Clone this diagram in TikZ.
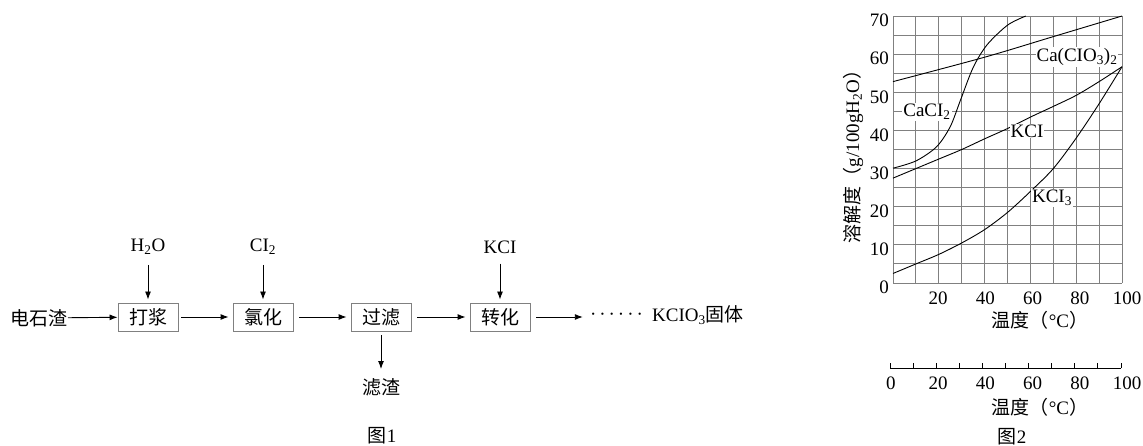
\documentclass[tikz,border=0pt]{standalone}
\usepackage{fontspec}
\setmainfont{Liberation Serif}
\newfontfamily\cjk{Noto Sans CJK SC}
\newcommand{\zh}[1]{{\cjk #1}}
\usetikzlibrary{arrows.meta}
\begin{document}
\begin{tikzpicture}[x=1pt,y=-1pt,
  every node/.style={font=\fontsize{19}{22}\selectfont, inner sep=0pt},
  procbox/.style={draw=black!50, line width=0.9pt, minimum width=60pt, minimum height=28pt},
  flow/.style={-{Latex[length=8pt,width=6pt]}, line width=0.9pt},
  gridln/.style={draw=black!50, line width=0.9pt},
  curve/.style={line width=0.9pt},
  clabel/.style={fill=white, inner sep=1pt}]
\useasboundingbox (0,0) rectangle (1143,446);

% ---------- Figure 1 : flow chart ----------
\node[anchor=east] (raw) at (68,318) {\zh{电石渣}};
\node[procbox] (b1) at (148,317) {\zh{打浆}};
\node[procbox] (b2) at (263,317) {\zh{氯化}};
\node[procbox] (b3) at (381,317) {\zh{过滤}};
\node[procbox] (b4) at (500,317) {\zh{转化}};
\node (h2o) at (148,247) {H\textsubscript{2}O};
\node (cl2) at (263,247) {CI\textsubscript{2}};
\node (kcl) at (500,247) {KCI};
\node (lz) at (381,387) {\zh{滤渣}};
\node (dots) at (616.5,317) {\makebox[53pt]{·\hfill·\hfill·\hfill·\hfill·\hfill·}};
\node[anchor=base west] (prod) at (652,322) {KCIO\textsubscript{3}\zh{固体}};
\node (fig1) at (382,436) {\zh{图}1};

\draw[flow] (raw) -- (b1);
\draw[flow, shorten <=3pt, shorten >=4pt] (b1) -- (b2);
\draw[flow, shorten <=6pt, shorten >=4pt] (b2) -- (b3);
\draw[flow, shorten <=6pt, shorten >=4pt] (b3) -- (b4);
\draw[flow, shorten <=6pt, shorten >=7pt] (b4) -- (dots);
\draw[flow, shorten <=10pt, shorten >=3pt] (h2o) -- (b1);
\draw[flow, shorten <=10pt, shorten >=3pt] (cl2) -- (b2);
\draw[flow, shorten <=10pt, shorten >=3pt] (kcl) -- (b4);
\draw[flow, shorten <=4pt, shorten >=9pt] (b3) -- (lz);

% ---------- Figure 2 : solubility graph ----------
\begin{scope}[shift={(893pt,-283pt)}, x=2.29pt, y=3.814pt]
  \foreach \i in {0,10,...,100} \draw[gridln] (\i,0) -- (\i,70);
  \foreach \j in {0,5,...,70} \draw[gridln] (0,\j) -- (100,\j);
  % Ca(ClO3)2
  \draw[curve] plot[smooth] coordinates {(0,52.8) (40,59.2) (70,64.6) (100,70)};
  % CaCl2
  \draw[curve] plot[smooth] coordinates {(0,30.1) (10,32) (19,35.7) (25,41) (29.5,48) (35,56.5) (41,62.4) (50,67.6) (58,70)};
  % KCl
  \draw[curve] plot[smooth] coordinates {(0,27.5) (10,30) (20,32.5) (30,35) (40,37.8) (50,40.5) (60,43.5) (70,46.3) (80,49.2) (90,52.8) (100,56.7)};
  % KClO3
  \draw[curve] plot[smooth] coordinates {(0,2.5) (10,5) (20,7.5) (30,10.5) (40,14) (50,18.5) (60,24) (70,30) (80,38) (90,47) (100,56.7)};
\end{scope}

\foreach \j in {0,10,...,70}
  \node[anchor=east] (yl\j) at (889, 287.5-3.814*\j) {\j};
\foreach \i in {20,40,...,100}
  \node (xl\i) at (890.75+2.3625*\i, 298) {\i};
\node (xt1) at (1040,320) {\zh{温度（}°C\zh{）}};
\node[rotate=90] (yt) at (853,152) {\zh{溶解度（}g/100gH\textsubscript{2}O\zh{）}};

\node[clabel] (lcaclo) at (1077,57) {Ca(CIO\textsubscript{3})\textsubscript{2}};
\node[clabel] (lcacl) at (927,112) {CaCI\textsubscript{2}};
\node[clabel] (lkcl) at (1027,131) {KCI};
\node[clabel] (lkclo) at (1052,198) {KCI\textsubscript{3}};

% second temperature axis
\coordinate (ax0) at (890,368);
\coordinate (ax1) at (1121,368);
\draw[line width=1pt] (ax0) -- (ax1);
\foreach \i in {0,...,10} \draw[line width=1pt] (890+23.1*\i,368) -- ++(0,-5.5);
\foreach \i in {0,20,...,100}
  \node (al\i) at (890.75+2.3625*\i, 383) {\i};
\node (xt2) at (1040,407) {\zh{温度（}°C\zh{）}};
\node (fig2) at (1012,437) {\zh{图}2};
\end{tikzpicture}
\end{document}
